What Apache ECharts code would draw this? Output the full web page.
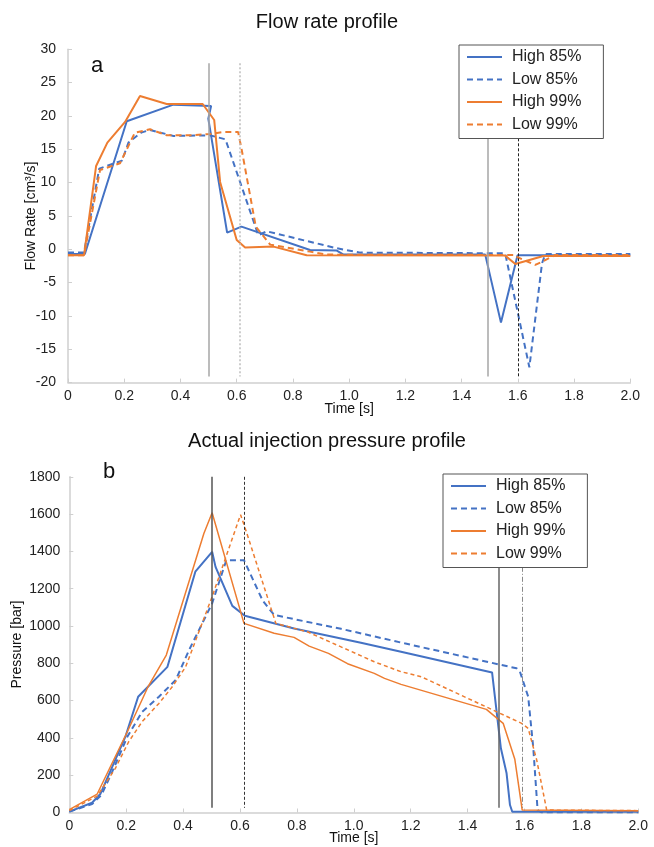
<!DOCTYPE html>
<html>
<head>
<meta charset="utf-8">
<script src="https://cdn.jsdelivr.net/npm/echarts@6/dist/echarts.min.js"></script>
<style>
  html, body { margin: 0; background: #fff; }
  #chart { width: 654px; height: 847px; }
</style>
</head>
<body>
<div id="chart"></div>
<script>
// [time s, value] pairs
const names = ['High 85%', 'Low 85%', 'High 99%', 'Low 99%']

// a: flow rate [cm3/s]
const high85Flow = [[0, -0.7], [0.06, -0.7], [0.209, 19.2], [0.375, 21.7], [0.509, 21.5], [0.499, 19.6], [0.566, 2.5],
  [0.617, 3.4], [0.861, -0.1], [0.956, -0.2], [0.98, -0.8], [1.484, -0.8], [1.54, -11.0], [1.599, -0.9], [2.0, -0.9]]
const low85Flow = [[0, -0.5], [0.057, -0.5], [0.111, 12.1], [0.192, 13.3], [0.215, 16.0], [0.26, 17.5], [0.292, 17.9],
  [0.375, 17.0], [0.505, 17.1], [0.56, 16.5], [0.677, 2.1], [0.707, 2.7], [0.956, 0.15], [1.04, -0.5], [1.555, -0.6],
  [1.641, -17.7], [1.686, -2.1], [1.698, -0.7], [2.0, -0.7]]
const high99Flow = [[0, -0.9], [0.057, -0.9], [0.1, 12.5], [0.14, 16.0], [0.203, 19.1], [0.256, 23.0], [0.351, 21.8],
  [0.479, 21.8], [0.52, 19.4], [0.541, 10.1], [0.6, 1.4], [0.63, 0.25], [0.731, 0.4], [0.849, -0.9], [1.555, -0.95],
  [1.591, -2.2], [1.691, -1.0], [2.0, -1.0]]
const low99Flow = [[0, -0.9], [0.057, -0.9], [0.114, 11.9], [0.185, 12.9], [0.238, 17.5], [0.292, 18.0], [0.351, 17.1],
  [0.434, 17.1], [0.505, 17.3], [0.553, 17.6], [0.605, 17.6], [0.618, 14.9], [0.668, 3.4], [0.719, 0.7], [0.861, -0.35],
  [0.92, -0.8], [1.59, -0.85], [1.599, -1.2], [1.662, -2.35], [1.68, -2.0], [1.733, -0.85], [2.0, -0.85]]

// b: pressure [bar]
const high85P = [[0, 5], [0.08, 52], [0.109, 99], [0.198, 410], [0.242, 621], [0.345, 781], [0.443, 1291], [0.502, 1398],
  [0.514, 1317], [0.573, 1108], [0.617, 1055], [0.79, 987], [1.025, 910], [1.166, 862], [1.486, 751], [1.517, 344],
  [1.537, 210], [1.549, 40], [1.557, 4], [2.0, 4]]
const low85P = [[0, 5], [0.08, 45], [0.113, 94], [0.151, 219], [0.204, 406], [0.256, 540], [0.315, 621], [0.374, 710],
  [0.421, 871], [0.502, 1121], [0.552, 1353], [0.614, 1353], [0.68, 1135], [0.72, 1059], [0.955, 985], [1.178, 907],
  [1.572, 773], [1.584, 755], [1.613, 621], [1.631, 344], [1.646, 13], [1.66, 0], [2.0, 0]]
const high99P = [[0, 15], [0.098, 99], [0.204, 433], [0.278, 678], [0.341, 844], [0.473, 1496], [0.502, 1607],
  [0.614, 1014], [0.72, 961], [0.79, 939], [0.843, 892], [0.911, 853], [0.978, 798], [1.072, 746], [1.108, 719],
  [1.166, 687], [1.466, 553], [1.525, 478], [1.566, 285], [1.592, 13], [2.0, 10]]
const low99P = [[0, 10], [0.098, 88], [0.162, 237], [0.209, 380], [0.256, 487], [0.315, 585], [0.362, 674], [0.409, 781],
  [0.502, 1157], [0.602, 1597], [0.626, 1488], [0.726, 1014], [0.814, 978], [0.837, 969], [1.072, 808], [1.166, 755],
  [1.237, 728], [1.59, 478], [1.613, 451], [1.643, 281], [1.678, 13], [2.0, 10]]

// vertical marker times
const flowMarks = [0.502, 0.612, 1.494, 1.603]
const pressureMarks = [0.502, 0.614, 1.508, 1.593]

// tick labels
const timeTicks = [0, 0.2, 0.4, 0.6, 0.8, 1.0, 1.2, 1.4, 1.6, 1.8, 2.0]
const flowTicks = [-20, -15, -10, -5, 0, 5, 10, 15, 20, 25, 30]
const pressureTicks = [0, 200, 400, 600, 800, 1000, 1200, 1400, 1600, 1800]

const FONT = 'Liberation Sans, Arial, sans-serif'
const BLUE = '#4472c4'
const ORANGE = '#ed7d31'

function range(ticks) {
  return { min: ticks[0], max: ticks[ticks.length - 1], interval: ticks[1] - ticks[0] }
}

const axisBase = {
  axisLine: { onZero: false, lineStyle: { color: '#cfcfcf', width: 1.5 } },
  axisTick: { inside: true, length: 4, lineStyle: { color: '#cfcfcf' } },
  splitLine: { show: false },
  nameLocation: 'middle',
  nameMoveOverlap: false,
  nameTextStyle: { fontSize: 14, fontFamily: FONT, color: '#111' },
}

function xAxis(grid, gap) {
  return Object.assign({}, axisBase, range(timeTicks), {
    type: 'value', gridIndex: grid, name: 'Time [s]', nameGap: gap,
    axisLabel: { color: '#222', fontSize: 14, fontFamily: FONT, margin: 7,
      formatter: v => (v === 0 ? '0' : v.toFixed(1)) },
  })
}

function yAxis(grid, ticks, name, gap, margin) {
  return Object.assign({}, axisBase, range(ticks), {
    type: 'value', gridIndex: grid, name, nameGap: gap,
    axisLabel: { color: '#222', fontSize: 14, fontFamily: FONT, margin, formatter: v => String(v) },
  })
}

function line(name, data, idx, color, width, dash) {
  return {
    name, type: 'line', data, xAxisIndex: idx, yAxisIndex: idx,
    symbol: 'none', showSymbol: false, color, animation: false,
    lineStyle: { color, width, type: dash || 'solid' },
  }
}

function marks(times, styles, y1, y2) {
  return {
    silent: true, symbol: ['none', 'none'], label: { show: false }, animation: false,
    data: times.map((t, i) => [{ coord: [t, y1], lineStyle: styles[i] }, { coord: [t, y2] }]),
  }
}

// legend box sits on top of the marker lines
function legend(left, top) {
  return {
    data: names, orient: 'vertical', left, top, selectedMode: false, z: 20,
    padding: [4, 22, 6, 7], itemGap: 6.5, itemWidth: 35, itemHeight: 14,
    borderColor: '#555', borderWidth: 1, backgroundColor: '#fff',
    itemStyle: { opacity: 0 },
    textStyle: { fontSize: 16, fontFamily: FONT, color: '#222', padding: [0, 0, 0, 5] },
  }
}

const series = [
  line(names[0], high85Flow, 0, BLUE, 2),
  line(names[1], low85Flow, 0, BLUE, 2, [6, 4]),
  line(names[2], high99Flow, 0, ORANGE, 2),
  line(names[3], low99Flow, 0, ORANGE, 2, [6, 4]),
  line(names[0], high85P, 1, BLUE, 2),
  line(names[1], low85P, 1, BLUE, 2, [6, 4]),
  line(names[2], high99P, 1, ORANGE, 1.5),
  line(names[3], low99P, 1, ORANGE, 1.5, [4, 3]),
]

series[0].markLine = marks(flowMarks, [
  { color: '#a6a6a6', width: 1.5, type: 'solid' },
  { color: '#bdbdbd', width: 1.5, type: [2, 2] },
  { color: '#a6a6a6', width: 1.5, type: 'solid' },
  { color: '#222', width: 1, type: [3, 2] },
], 27.9, -19.1)

series[4].markLine = marks(pressureMarks, [
  { color: '#555', width: 1.5, type: 'solid' },
  { color: '#333', width: 1, type: [3, 2] },
  { color: '#666', width: 1.5, type: 'solid' },
  { color: '#888', width: 1, type: [5, 2, 1, 2] },
], 1800, 25)

const chart = echarts.init(document.getElementById('chart'), null, { renderer: 'canvas' })
chart.setOption({
  backgroundColor: '#fff',
  animation: false,
  title: [
    { text: 'Flow rate profile', left: 'center', top: 12, padding: 0,
      textStyle: { fontSize: 20, fontWeight: 'normal', fontFamily: FONT, color: '#111' } },
    { text: 'Actual injection pressure profile', left: 'center', top: 431, padding: 0,
      textStyle: { fontSize: 20, fontWeight: 'normal', fontFamily: FONT, color: '#111' } },
  ],
  graphic: [
    { type: 'text', left: 91, top: 55, style: { text: 'a', fontSize: 22, fontFamily: FONT, fill: '#111' } },
    { type: 'text', left: 103, top: 461, style: { text: 'b', fontSize: 22, fontFamily: FONT, fill: '#111' } },
  ],
  legend: [legend(459, 45), legend(443, 474)],
  grid: [
    { left: 68, top: 49.3, width: 562.3, height: 333.3 },
    { left: 69.3, top: 476.8, width: 569, height: 335.7 },
  ],
  xAxis: [xAxis(0, 20), xAxis(1, 19)],
  yAxis: [
    yAxis(0, flowTicks, 'Flow Rate [cm³/s]', 30, 12),
    yAxis(1, pressureTicks, 'Pressure [bar]', 45, 9),
  ],
  series,
})
</script>
</body>
</html>
